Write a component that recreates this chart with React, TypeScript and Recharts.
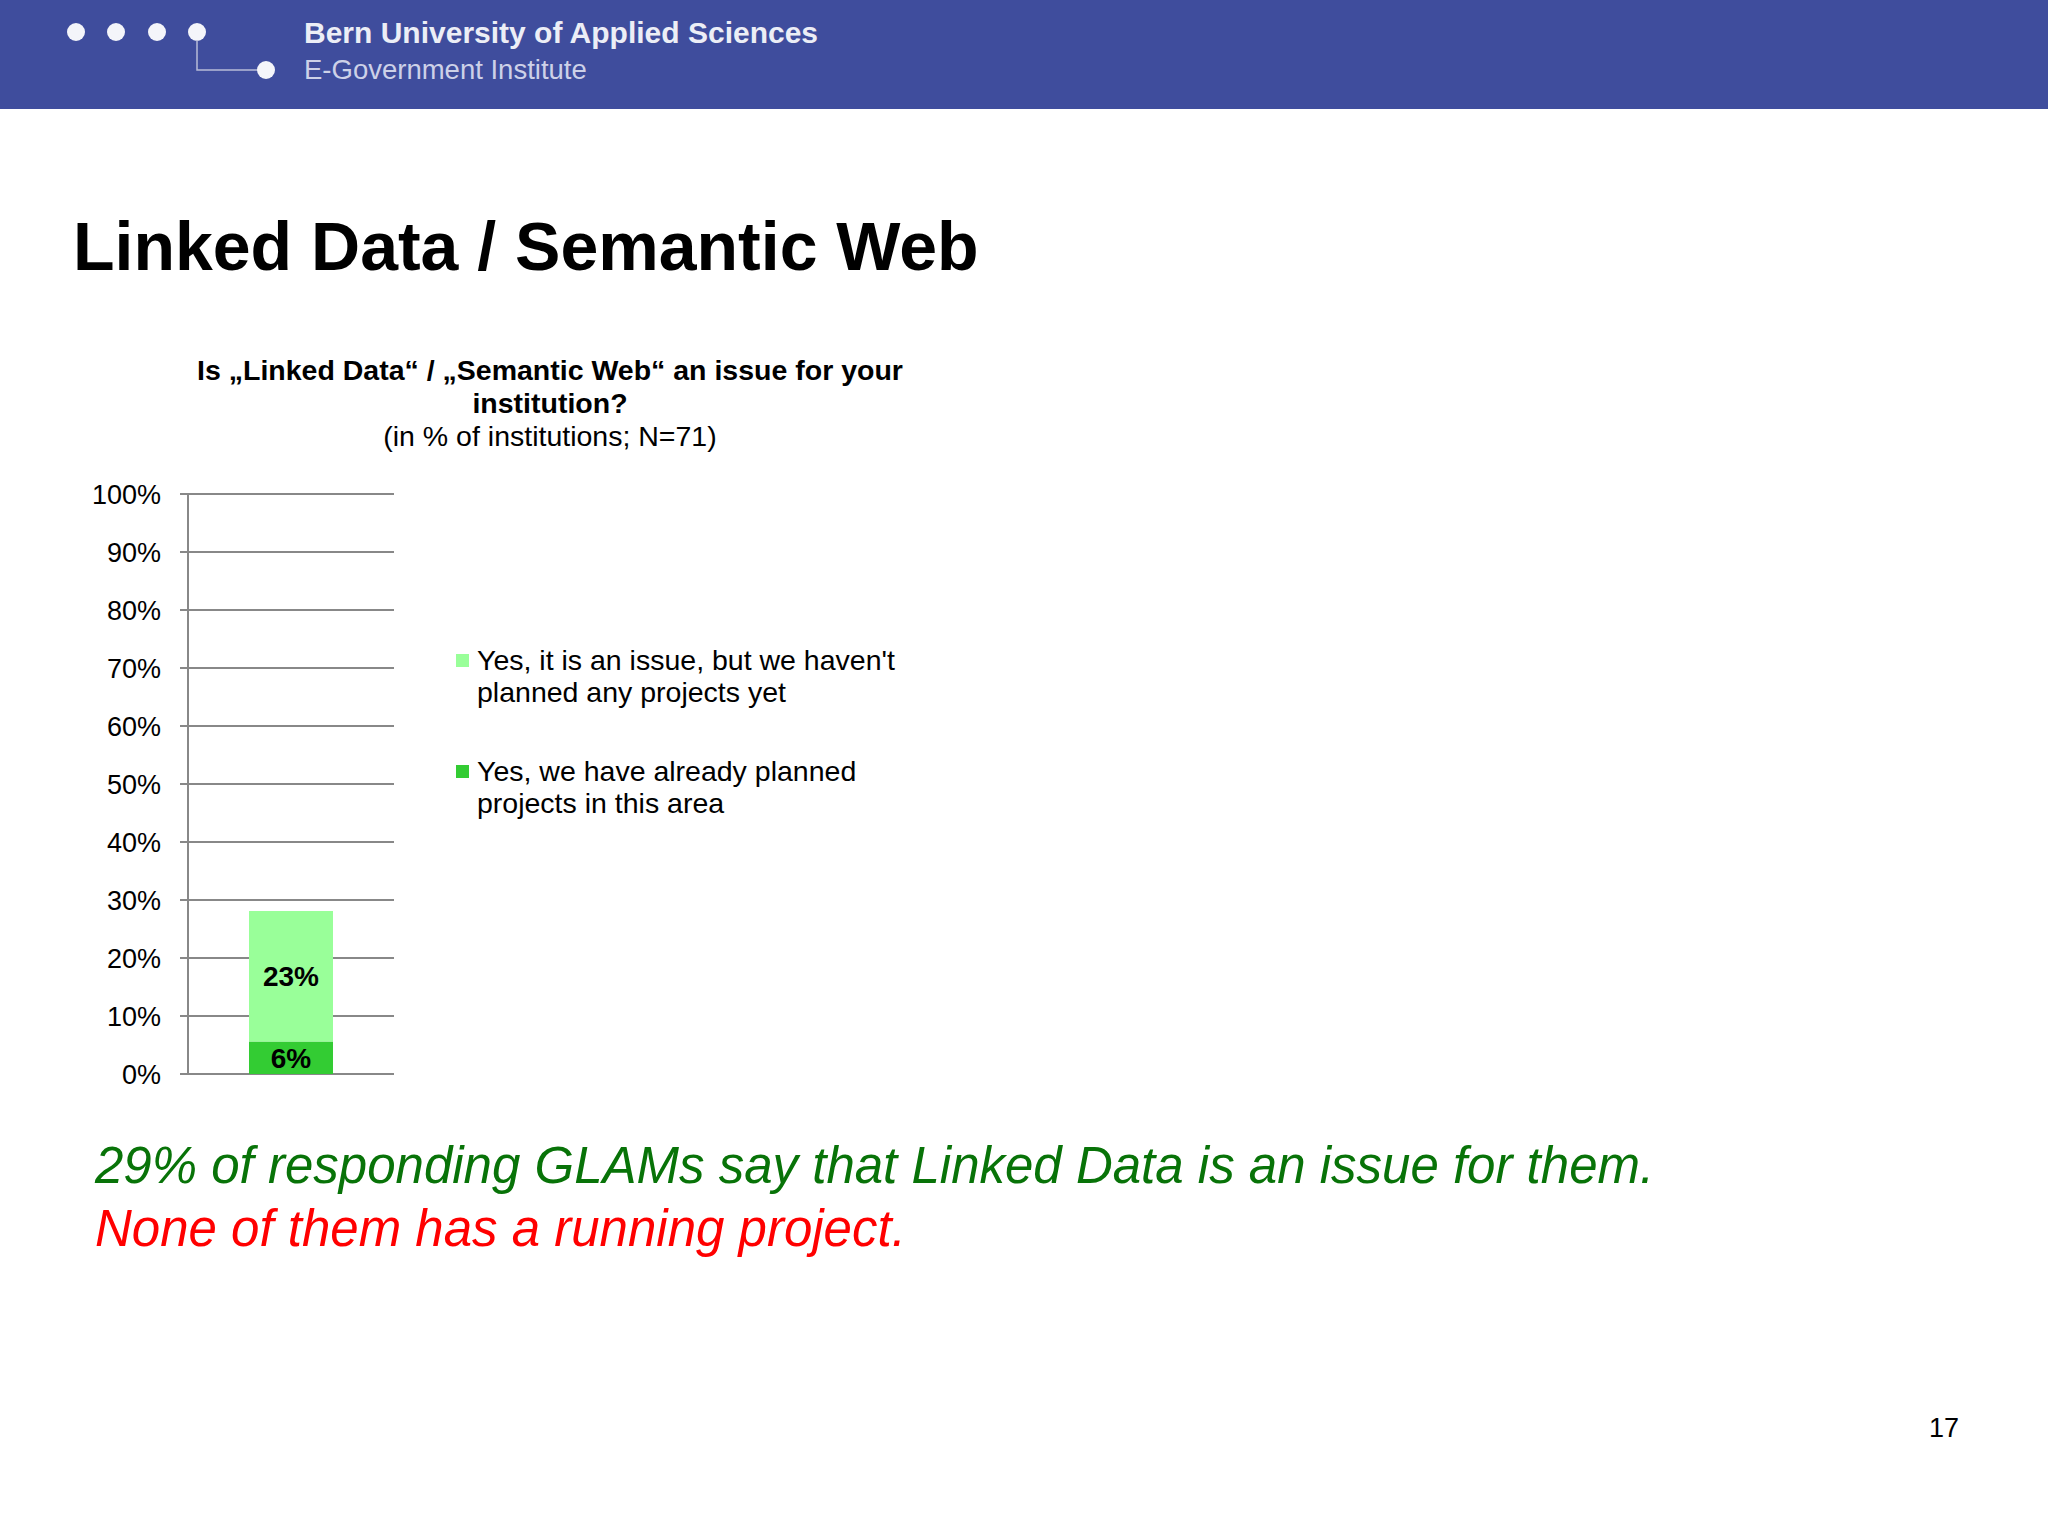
import React from 'react';
import { BarChart, Bar, XAxis, YAxis, CartesianGrid, Legend, LabelList } from 'recharts';

const categories = [''];
const plannedValues = [5.6]; // Yes, already planned projects
const notPlannedValues = [22.5]; // Yes, but no projects planned yet
const yTicks = [0, 10, 20, 30, 40, 50, 60, 70, 80, 90, 100];
const seriesNames = [
  'Yes, we have already planned\nprojects in this area',
  "Yes, it is an issue, but we haven't\nplanned any projects yet",
];
const COLORS = ['#33CC33', '#99FF99']; // dark green, light green

const FONT = '"Liberation Sans", Arial, sans-serif';
const GRID = '#888888';

const data = categories.map((name, i) => ({
  name,
  planned: plannedValues[i],
  notPlanned: notPlannedValues[i],
}));

const pct = (v: any) => `${Math.round(Number(v))}%`;

// light green entry first, as in the slide
function LegendBox({ payload }: any) {
  const items = [...(payload || [])].sort((a: any, b: any) =>
    a.dataKey === 'notPlanned' ? -1 : b.dataKey === 'notPlanned' ? 1 : 0
  );
  return (
    <div style={{ fontFamily: FONT, fontSize: 28.5, lineHeight: '32px', color: '#000' }}>
      {items.map((entry: any, i: number) => (
        <div key={i} style={{ position: 'relative', paddingLeft: 21, marginBottom: 47, whiteSpace: 'pre-line' }}>
          <span
            style={{
              position: 'absolute',
              left: 0,
              top: 10,
              width: 13,
              height: 13,
              background: entry.color,
            }}
          />
          {entry.value}
        </div>
      ))}
    </div>
  );
}

export default function App() {
  return (
    <div style={{ position: 'absolute', left: 0, top: 0, width: 2048, height: 1536, background: '#fff', fontFamily: FONT, overflow: 'hidden' }}>
      {/* header band */}
      <div style={{ position: 'absolute', left: 0, top: 0, width: 2048, height: 109, background: '#3F4D9D' }} />
      <svg style={{ position: 'absolute', left: 0, top: 0 }} width={400} height={109}>
        {[76, 116, 157, 197].map((x) => (
          <circle key={x} cx={x} cy={32} r={9} fill="#F4F5FA" />
        ))}
        <polyline points="197,40 197,70 258,70" fill="none" stroke="#B8BCD8" strokeWidth={1.5} />
        <circle cx={266} cy={70} r={9} fill="#F4F5FA" />
      </svg>
      <div style={{ position: 'absolute', left: 304, top: 16, fontSize: 30, fontWeight: 'bold', color: '#ECEEF6', lineHeight: '34px', whiteSpace: 'nowrap' }}>
        Bern University of Applied Sciences
      </div>
      <div style={{ position: 'absolute', left: 304, top: 53, fontSize: 27.5, color: '#CDD1E8', lineHeight: '34px', whiteSpace: 'nowrap' }}>
        E-Government Institute
      </div>

      {/* slide title */}
      <div style={{ position: 'absolute', left: 73, top: 212, fontSize: 68, fontWeight: 'bold', lineHeight: '68px', color: '#000', whiteSpace: 'nowrap' }}>
        Linked Data / Semantic Web
      </div>

      {/* chart */}
      <div style={{ position: 'absolute', left: 0, top: 0 }}>
        <BarChart
          width={2048}
          height={1536}
          data={data}
          margin={{ top: 494, bottom: 462, left: 88, right: 1654 }}
        >
          <CartesianGrid horizontal vertical={false} stroke={GRID} strokeWidth={2} />
          <XAxis dataKey="name" hide />
          <YAxis
            width={100}
            domain={[0, 100]}
            ticks={yTicks}
            tickFormatter={(v) => `${v}%`}
            axisLine={{ stroke: GRID, strokeWidth: 2 }}
            tickLine={{ stroke: GRID, strokeWidth: 2 }}
            tickSize={8}
            tickMargin={19}
            tick={{ fill: '#000', fontSize: 27, fontFamily: FONT }}
            interval={0}
          />
          <Legend
            layout="vertical"
            align="center"
            verticalAlign="middle"
            content={<LegendBox />}
            wrapperStyle={{ position: 'absolute', left: 456, top: 644, width: 520 }}
          />
          <Bar dataKey="planned" name={seriesNames[0]} stackId="a" fill={COLORS[0]} barSize={84} isAnimationActive={false}>
            <LabelList dataKey="planned" position="center" formatter={pct} fill="#000" fontSize={28} fontWeight="bold" fontFamily={FONT} />
          </Bar>
          <Bar dataKey="notPlanned" name={seriesNames[1]} stackId="a" fill={COLORS[1]} barSize={84} isAnimationActive={false}>
            <LabelList dataKey="notPlanned" position="center" formatter={pct} fill="#000" fontSize={28} fontWeight="bold" fontFamily={FONT} />
          </Bar>
        </BarChart>
      </div>

      {/* chart title */}
      <div style={{ position: 'absolute', left: 150, top: 354, width: 800, textAlign: 'center', fontSize: 28.5, lineHeight: '33px', color: '#000' }}>
        <div style={{ fontWeight: 'bold' }}>
          Is „Linked Data“ / „Semantic Web“ an issue for your
          <br />
          institution?
        </div>
        <div>(in % of institutions; N=71)</div>
      </div>

      {/* conclusion */}
      <div style={{ position: 'absolute', left: 95, top: 1134, fontSize: 51, lineHeight: '63px', fontStyle: 'italic', whiteSpace: 'nowrap' }}>
        <div style={{ color: '#087308' }}>29% of responding GLAMs say that Linked Data is an issue for them.</div>
        <div style={{ color: '#FF0000' }}>None of them has a running project.</div>
      </div>

      <div style={{ position: 'absolute', left: 1929, top: 1412, fontSize: 27, lineHeight: '32px', color: '#000' }}>17</div>
    </div>
  );
}
